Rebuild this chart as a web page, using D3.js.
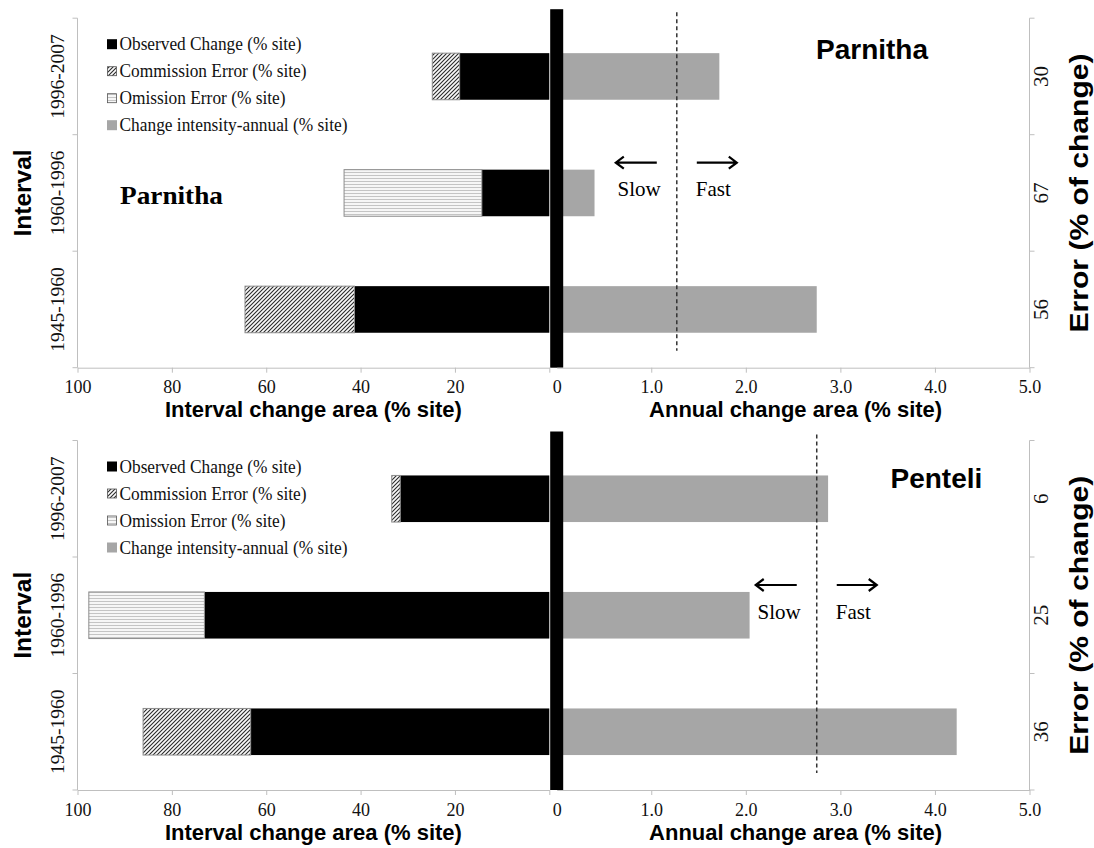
<!DOCTYPE html>
<html>
<head>
<meta charset="utf-8">
<script src="https://cdn.jsdelivr.net/npm/d3@7"></script>
<style>
  html, body { margin: 0; padding: 0; background: #fff; }
  svg { display: block; }
</style>
</head>
<body>
<script>
// Interval categories, top to bottom
const intervals = ["1996-2007", "1960-1996", "1945-1960"];

// Parnitha: interval change (% site)
const parnithaObserved   = [19.0, 14.3, 41.3];
const parnithaCommission = [5.8, 0, 23.2];
const parnithaOmission   = [0, 29.2, 0];
// Parnitha: annual change intensity (% site)
const parnithaAnnual     = [1.72, 0.40, 2.75];
const parnithaError      = [30, 67, 56];
const parnithaUniform    = 1.27;

// Penteli: interval change (% site)
const penteliObserved    = [31.6, 73.1, 63.3];
const penteliCommission  = [1.8, 0, 22.8];
const penteliOmission    = [0, 24.5, 0];
// Penteli: annual change intensity (% site)
const penteliAnnual      = [2.87, 2.04, 4.23];
const penteliError       = [6, 25, 36];
const penteliUniform     = 2.75;

// Axis ticks
const leftTicks  = [100, 80, 60, 40, 20, 0];
const rightTicks = [0, 1, 2, 3, 4, 5];

const legendItems = [
  { key: "obs",  label: "Observed Change (% site)",        len: 182 },
  { key: "com",  label: "Commission Error (% site)",       len: 187 },
  { key: "om",   label: "Omission Error (% site)",         len: 166 },
  { key: "ann",  label: "Change intensity-annual (% site)", len: 228 }
];

const SERIF = "'Liberation Serif', 'Times New Roman', serif";
const SANS  = "'Liberation Sans', Arial, sans-serif";
const AXIS_COLOR = "#bfbfbf";
const GREY_BAR = "#a6a6a6";

const W = 1094, H = 848;
const svg = d3.select("body").append("svg").attr("width", W).attr("height", H);

// Fill patterns
const defs = svg.append("defs");
const hatch = defs.append("pattern")
  .attr("id", "commission").attr("patternUnits", "userSpaceOnUse")
  .attr("width", 4).attr("height", 4);
hatch.append("rect").attr("width", 4).attr("height", 4).attr("fill", "#fafafa");
hatch.append("path").attr("d", "M-1,1 l2,-2 M0,4 l4,-4 M3,5 l2,-2")
  .attr("stroke", "#2a2a2a").attr("stroke-width", 1.1);

const lines = defs.append("pattern")
  .attr("id", "omission").attr("patternUnits", "userSpaceOnUse")
  .attr("width", 4).attr("height", 3);
lines.append("rect").attr("width", 4).attr("height", 3).attr("fill", "#f6f6f6");
lines.append("line").attr("x1", 0).attr("x2", 4).attr("y1", 1.5).attr("y2", 1.5)
  .attr("stroke", "#c4c4c4").attr("stroke-width", 1);

// Shared horizontal scales
const xL = d3.scaleLinear().domain([100, 0]).range([77.5, 549.3]);
const xR = d3.scaleLinear().domain([0, 5]).range([556.7, 1029.5]);

function drawPanel(cfg) {
  const { y0, y1 } = cfg;
  const g = svg.append("g");

  const y = d3.scaleBand().domain(intervals).range([y0, y1])
    .paddingInner(0.6).paddingOuter(0.3);
  const step = y.step();
  const bounds = d3.range(intervals.length + 1).map(i => y0 + i * step);

  const rows = intervals.map((iv, i) => ({
    iv,
    obs: cfg.observed[i],
    com: cfg.commission[i],
    om: cfg.omission[i],
    ann: cfg.annual[i],
    err: cfg.error[i]
  }));

  // Annual intensity bars (right side)
  g.selectAll(".ann").data(rows).join("rect")
    .attr("x", xR(0))
    .attr("y", d => y(d.iv))
    .attr("width", d => xR(d.ann) - xR(0))
    .attr("height", y.bandwidth())
    .attr("fill", GREY_BAR);

  // Observed change bars (left side)
  g.selectAll(".obs").data(rows).join("rect")
    .attr("x", d => xL(d.obs))
    .attr("y", d => y(d.iv))
    .attr("width", d => xL(0) - xL(d.obs))
    .attr("height", y.bandwidth())
    .attr("fill", "#000");

  // Commission error stacked beyond observed change
  g.selectAll(".com").data(rows.filter(d => d.com > 0)).join("rect")
    .attr("x", d => xL(d.obs + d.com))
    .attr("y", d => y(d.iv))
    .attr("width", d => xL(d.obs) - xL(d.obs + d.com))
    .attr("height", y.bandwidth())
    .attr("fill", "url(#commission)")
    .attr("stroke", "#8c8c8c").attr("stroke-width", 1);

  // Omission error stacked beyond observed change
  g.selectAll(".om").data(rows.filter(d => d.om > 0)).join("rect")
    .attr("x", d => xL(d.obs + d.om))
    .attr("y", d => y(d.iv))
    .attr("width", d => xL(d.obs) - xL(d.obs + d.om))
    .attr("height", y.bandwidth())
    .attr("fill", "url(#omission)")
    .attr("stroke", "#8c8c8c").attr("stroke-width", 1);

  // Central divider
  g.append("rect")
    .attr("x", xR(0) - 6.5).attr("width", 13)
    .attr("y", y0 - 9).attr("height", y1 - y0 + 9)
    .attr("fill", "#000");

  // Uniform intensity line
  g.append("line")
    .attr("x1", xR(cfg.uniform)).attr("x2", xR(cfg.uniform))
    .attr("y1", y0 - 6).attr("y2", y1 - 17)
    .attr("stroke", "#333").attr("stroke-width", 1.5)
    .attr("stroke-dasharray", "4,3");

  // Slow / Fast annotation
  const ux = xR(cfg.uniform);
  const ay = y0 + 144.5;
  const arrow = (xa, xb) => {
    const dir = Math.sign(xb - xa);
    g.append("path")
      .attr("d", `M${xa},${ay} L${xb},${ay} M${xb - dir * 8},${ay - 6} L${xb},${ay} L${xb - dir * 8},${ay + 6}`)
      .attr("fill", "none").attr("stroke", "#000").attr("stroke-width", 2.2);
  };
  arrow(ux - 20, ux - 61);
  arrow(ux + 20, ux + 60);
  g.append("text").attr("x", ux - 16).attr("y", y0 + 178)
    .attr("text-anchor", "end").attr("font-family", SERIF).attr("font-size", 21)
    .text("Slow");
  g.append("text").attr("x", ux + 19).attr("y", y0 + 178)
    .attr("text-anchor", "start").attr("font-family", SERIF).attr("font-size", 21)
    .text("Fast");

  // Bottom axes
  const axL = d3.axisBottom(xL).tickValues(leftTicks).tickSize(5).tickSizeOuter(0)
    .tickPadding(8).tickFormat(d => d === 0 ? "" : d);
  const axR = d3.axisBottom(xR).tickValues(rightTicks).tickSize(5).tickSizeOuter(0)
    .tickPadding(8).tickFormat(d => d === 0 ? "0" : d.toFixed(1));

  [axL, axR].forEach(ax => {
    const a = g.append("g").attr("transform", `translate(0,${y1})`).call(ax);
    a.select(".domain").attr("stroke", AXIS_COLOR);
    a.selectAll(".tick line").attr("stroke", AXIS_COLOR);
    a.selectAll(".tick text").attr("font-family", SERIF).attr("font-size", 18)
      .attr("fill", "#111");
    if (ax === axR) a.selectAll(".tick").filter(d => d === 0).select("line").remove();
  });

  // Vertical axes with band boundary ticks
  [[xL.range()[0], -5], [xR.range()[1], 5]].forEach(([ax, dir]) => {
    g.append("line").attr("x1", ax).attr("x2", ax).attr("y1", y0).attr("y2", y1)
      .attr("stroke", AXIS_COLOR);
    g.selectAll(null).data(bounds).join("line")
      .attr("x1", ax).attr("x2", ax + dir)
      .attr("y1", d => d).attr("y2", d => d)
      .attr("stroke", AXIS_COLOR);
  });

  // Interval labels (left) and error labels (right)
  g.selectAll(".ivl").data(rows).join("text")
    .attr("transform", d => `translate(57.5,${y(d.iv) + y.bandwidth() / 2}) rotate(-90)`)
    .attr("text-anchor", "middle").attr("dominant-baseline", "central")
    .attr("font-family", SERIF).attr("font-size", 19.5).attr("fill", "#111")
    .text(d => d.iv);
  g.selectAll(".errl").data(rows).join("text")
    .attr("transform", d => `translate(1040.5,${y(d.iv) + y.bandwidth() / 2}) rotate(-90)`)
    .attr("text-anchor", "middle").attr("dominant-baseline", "central")
    .attr("font-family", SERIF).attr("font-size", 21).attr("fill", "#111")
    .text(d => d.err);

  // Axis titles
  const mid = (y0 + y1) / 2;
  g.append("text")
    .attr("transform", `translate(22,${mid}) rotate(-90)`)
    .attr("text-anchor", "middle").attr("dominant-baseline", "central")
    .attr("font-family", SANS).attr("font-weight", "bold").attr("font-size", 24)
    .attr("textLength", 87).attr("lengthAdjust", "spacingAndGlyphs")
    .text("Interval");
  g.append("text")
    .attr("transform", `translate(1079,${mid}) rotate(-90)`)
    .attr("text-anchor", "middle").attr("dominant-baseline", "central")
    .attr("font-family", SANS).attr("font-weight", "bold").attr("font-size", 25)
    .attr("textLength", 279).attr("lengthAdjust", "spacingAndGlyphs")
    .text("Error (% of change)");
  g.append("text")
    .attr("x", xL(50)).attr("y", y1 + 49.6)
    .attr("text-anchor", "middle")
    .attr("font-family", SANS).attr("font-weight", "bold").attr("font-size", 22)
    .attr("textLength", 297).attr("lengthAdjust", "spacingAndGlyphs")
    .text("Interval change area (% site)");
  g.append("text")
    .attr("x", xR(2.5) + 2.5).attr("y", y1 + 49.6)
    .attr("text-anchor", "middle")
    .attr("font-family", SANS).attr("font-weight", "bold").attr("font-size", 22)
    .attr("textLength", 293).attr("lengthAdjust", "spacingAndGlyphs")
    .text("Annual change area (% site)");

  // Site names
  g.append("text")
    .attr("x", cfg.nameX).attr("y", cfg.nameY)
    .attr("font-family", SANS).attr("font-weight", "bold").attr("font-size", 28)
    .text(cfg.name);
  if (cfg.leftName) {
    g.append("text")
      .attr("x", 120).attr("y", y0 + 185.5)
      .attr("font-family", SERIF).attr("font-weight", "bold").attr("font-size", 25)
      .attr("textLength", 103).attr("lengthAdjust", "spacingAndGlyphs")
      .text(cfg.name);
  }

  // Legend
  const lg = g.append("g");
  const offs = [26, 53, 80, 107];
  legendItems.forEach((it, i) => {
    const cy = y0 + offs[i];
    const sw = lg.append("rect").attr("x", 107).attr("y", cy - 5)
      .attr("width", 10).attr("height", 10);
    if (it.key === "obs") sw.attr("fill", "#000");
    if (it.key === "com") sw.attr("fill", "url(#commission)").attr("stroke", "#555").attr("stroke-width", 0.8)
      .attr("x", 107.5).attr("y", cy - 4.5).attr("width", 9).attr("height", 9);
    if (it.key === "om") sw.attr("fill", "url(#omission)").attr("stroke", "#555").attr("stroke-width", 0.8)
      .attr("x", 107.5).attr("y", cy - 4.5).attr("width", 9).attr("height", 9);
    if (it.key === "ann") sw.attr("fill", GREY_BAR);
    lg.append("text").attr("x", 119.5).attr("y", cy + 6)
      .attr("font-family", SERIF).attr("font-size", 18).attr("fill", "#111")
      .attr("textLength", it.len).attr("lengthAdjust", "spacingAndGlyphs")
      .text(it.label);
  });
}

drawPanel({
  y0: 18.2, y1: 367.7,
  observed: parnithaObserved, commission: parnithaCommission, omission: parnithaOmission,
  annual: parnithaAnnual, error: parnithaError, uniform: parnithaUniform,
  name: "Parnitha", nameX: 816, nameY: 59, leftName: true
});

drawPanel({
  y0: 440.5, y1: 790,
  observed: penteliObserved, commission: penteliCommission, omission: penteliOmission,
  annual: penteliAnnual, error: penteliError, uniform: penteliUniform,
  name: "Penteli", nameX: 890.5, nameY: 488.3, leftName: false
});
</script>
</body>
</html>
